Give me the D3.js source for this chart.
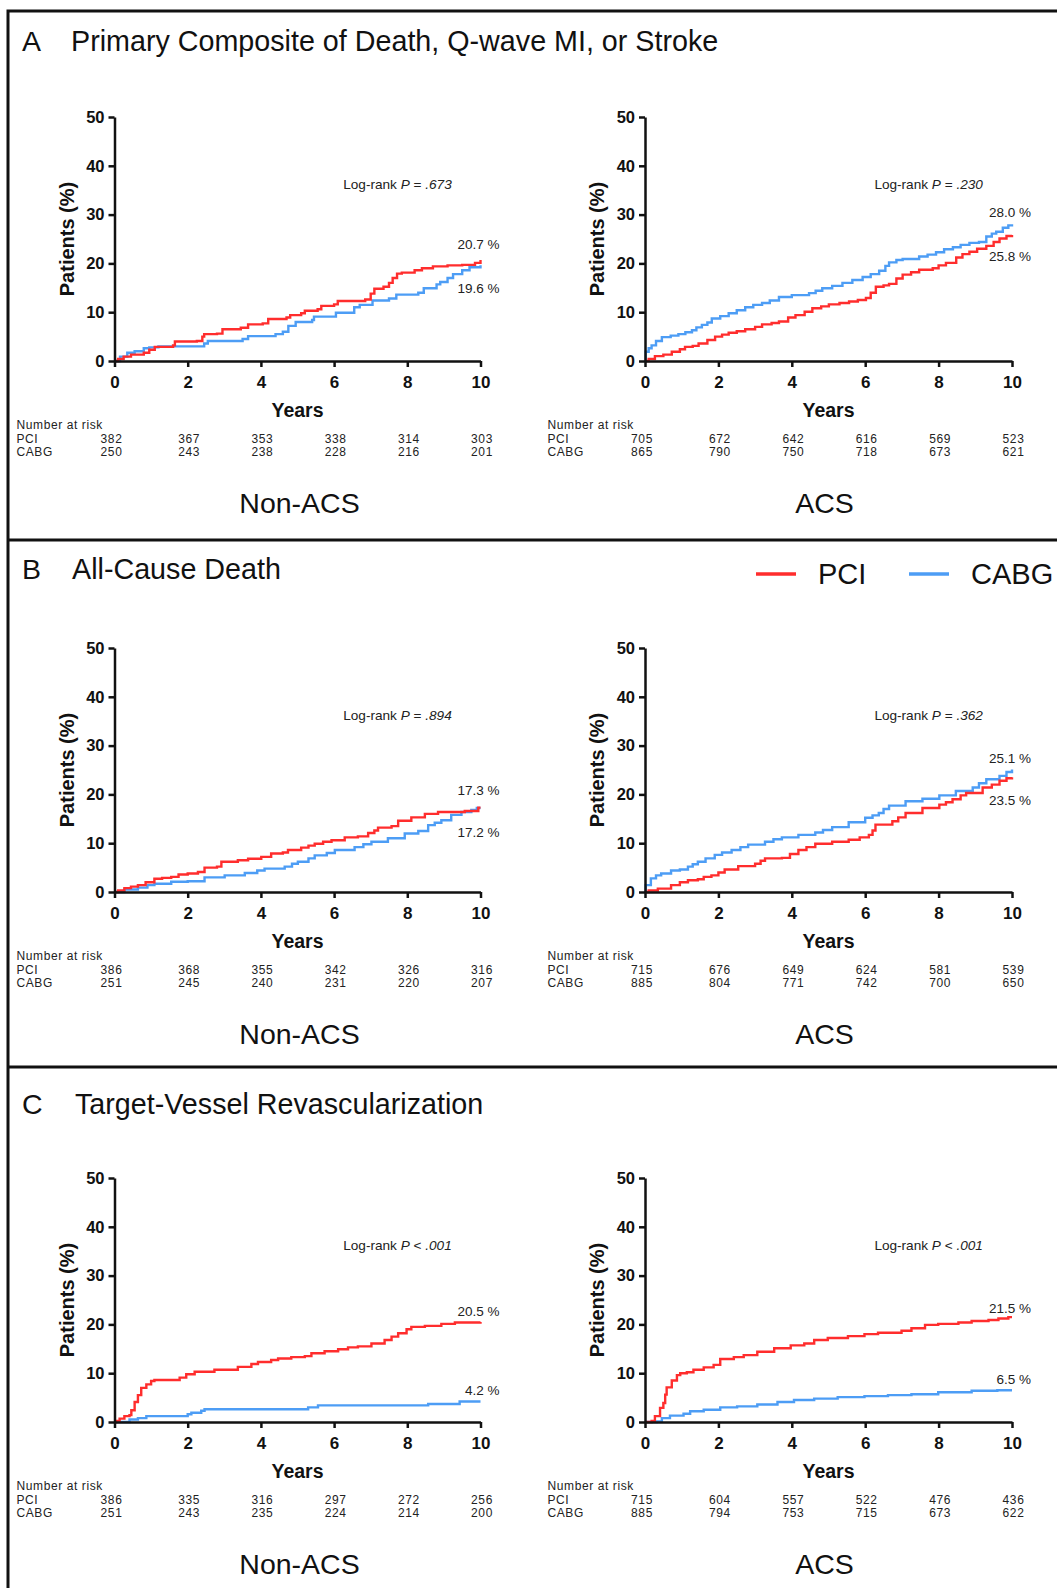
<!DOCTYPE html>
<html lang="en">
<head>
  <meta charset="UTF-8">
  <title>PCI vs CABG, Non-ACS and ACS</title>
  <script src="https://cdn.jsdelivr.net/npm/d3@7"></script>
  <style>
    body { margin: 0; background: #fff; }
    svg text { font-family: "Liberation Sans", Arial, Helvetica, sans-serif; fill: #111; }
    .axis path, .axis line { stroke: #111; stroke-width: 2.5; }
    .axis text { font-weight: bold; fill: #111; }
    .risk { font-size: 12px; letter-spacing: 0.6px; fill: #222; }
    .note { font-size: 13.6px; fill: #222; }
  </style>
</head>
<body>
<script>
  // ---- data ----
  var letters = ["A", "B", "C"];
  var titles = ["Primary Composite of Death, Q-wave MI, or Stroke", "All-Cause Death", "Target-Vessel Revascularization"];
  var groups = ["Non-ACS", "ACS"];
  var yearTicks = [0, 2, 4, 6, 8, 10];
  var pctTicks = [0, 10, 20, 30, 40, 50];
  var seriesNames = ["PCI", "CABG"];

  // panel A: death, Q-wave MI or stroke
  var aNonPci = [[0,0],[0.1,0.4],[0.25,0.9],[0.45,1.3],[0.8,1.7],[0.95,2.3],[1.1,2.9],[1.6,3.2],[1.65,4.0],[2.25,4.1],[2.4,5.0],[2.45,5.5],[2.8,5.6],[2.95,6.5],[3.45,6.8],[3.65,7.5],[4.05,7.7],[4.2,8.6],[4.7,8.9],[4.8,9.4],[5.1,9.8],[5.2,10.3],[5.55,10.6],[5.65,11.3],[6.0,11.6],[6.1,12.3],[6.85,12.6],[7.0,13.8],[7.1,14.8],[7.35,15.2],[7.5,16.0],[7.6,17.0],[7.72,17.9],[7.85,18.1],[8.2,18.6],[8.4,19.0],[8.7,19.4],[9.1,19.6],[9.5,19.7],[9.85,20.1],[10,20.7]];
  var aNonCabg = [[0,0],[0.15,0.9],[0.35,1.7],[0.55,2.0],[0.8,2.6],[0.95,2.8],[1.2,3.0],[2.45,3.6],[2.55,4.1],[3.5,4.5],[3.65,5.1],[4.4,5.5],[4.6,6.0],[4.75,7.2],[4.95,8.0],[5.4,8.4],[5.45,9.1],[6.05,9.9],[6.55,11.0],[6.7,11.5],[7.05,12.4],[7.5,12.8],[7.7,13.6],[8.3,14.0],[8.45,14.9],[8.8,15.7],[8.9,16.2],[9.1,17.0],[9.25,17.8],[9.5,18.6],[9.7,19.2],[10,19.6]];
  var aAcsPci = [[0,0],[0.1,0.4],[0.27,1.0],[0.5,1.3],[0.73,1.9],[0.95,2.4],[1.09,2.9],[1.3,3.1],[1.46,3.6],[1.7,4.3],[1.91,5.0],[2.1,5.4],[2.28,5.8],[2.5,6.1],[2.73,6.5],[3.0,7.0],[3.19,7.5],[3.45,7.8],[3.65,8.1],[3.9,8.9],[4.1,9.4],[4.35,10.1],[4.56,10.8],[4.8,11.2],[5.01,11.6],[5.3,11.9],[5.56,12.2],[5.8,12.5],[6.02,12.9],[6.15,14.0],[6.29,15.2],[6.5,15.5],[6.65,15.8],[6.85,16.9],[7.02,17.7],[7.25,18.2],[7.47,18.7],[7.84,19.0],[8.0,19.6],[8.2,20.1],[8.48,21.2],[8.65,21.9],[8.84,22.4],[9.05,23.0],[9.3,23.6],[9.5,24.4],[9.66,25.1],[9.85,25.6],[10,25.8]];
  var aAcsCabg = [[0,0],[0.02,1.9],[0.1,2.6],[0.18,3.2],[0.3,4.1],[0.46,4.9],[0.7,5.2],[0.91,5.5],[1.1,5.9],[1.28,6.3],[1.4,6.9],[1.55,7.4],[1.7,7.9],[1.82,8.7],[2.05,9.2],[2.28,9.8],[2.5,10.4],[2.73,11.0],[2.95,11.5],[3.19,11.9],[3.4,12.4],[3.65,13.1],[4.0,13.5],[4.47,13.9],[4.65,14.4],[4.83,14.9],[5.1,15.4],[5.38,16.0],[5.65,16.6],[5.93,17.2],[6.15,17.8],[6.38,18.5],[6.55,19.5],[6.65,20.2],[6.85,20.7],[7.02,20.9],[7.47,21.4],[7.7,21.8],[7.93,22.3],[8.15,22.9],[8.39,23.3],[8.6,23.8],[8.84,24.2],[9.1,24.4],[9.3,25.5],[9.45,26.1],[9.57,26.5],[9.75,27.3],[9.9,27.8],[10,28.0]];

  // panel B: all-cause death
  var bNonPci = [[0,0],[0.1,0.3],[0.27,0.8],[0.45,1.1],[0.64,1.4],[0.85,2.0],[1.09,2.7],[1.3,2.9],[1.55,3.1],[1.75,3.6],[2.0,3.8],[2.28,4.1],[2.46,5.0],[2.8,5.2],[2.92,6.2],[3.37,6.5],[3.65,6.8],[4.01,7.2],[4.28,7.9],[4.6,8.1],[4.74,8.6],[5.1,9.1],[5.3,9.5],[5.47,9.9],[5.7,10.3],[5.93,10.6],[6.29,11.2],[6.65,11.4],[6.93,12.1],[7.1,12.6],[7.2,13.2],[7.57,13.5],[7.75,14.6],[8.11,15.3],[8.48,16.0],[8.84,16.4],[9.57,16.6],[9.94,17.3],[10,17.3]];
  var bNonCabg = [[0,0],[0.27,0.5],[0.64,0.9],[0.9,1.4],[1.09,1.7],[1.55,2.1],[2.0,2.2],[2.46,3.0],[3.01,3.4],[3.56,3.9],[3.9,4.4],[4.1,4.8],[4.65,5.2],[4.85,5.8],[5.01,6.2],[5.3,6.9],[5.47,7.5],[5.8,8.0],[6.02,8.6],[6.56,9.2],[6.8,9.8],[7.02,10.3],[7.47,11.0],[7.93,12.0],[8.3,12.5],[8.57,13.7],[8.75,14.2],[8.93,14.7],[9.2,15.8],[9.48,16.4],[9.75,16.8],[9.9,17.2],[10,17.2]];
  var bAcsPci = [[0,0],[0.1,0.3],[0.35,0.7],[0.71,1.4],[0.95,2.0],[1.17,2.4],[1.44,2.6],[1.6,3.1],[1.81,3.4],[2.0,4.0],[2.17,4.6],[2.54,5.3],[3.0,5.8],[3.15,6.4],[3.27,6.9],[3.73,7.0],[3.95,7.8],[4.18,8.6],[4.4,9.2],[4.64,9.9],[5.1,10.3],[5.55,10.7],[5.85,11.2],[6.1,11.7],[6.2,12.6],[6.28,13.8],[6.74,14.5],[6.9,15.3],[7.1,16.2],[7.56,17.2],[8.02,17.9],[8.2,18.4],[8.38,19.0],[8.6,19.8],[8.75,20.3],[9.2,21.4],[9.45,22.0],[9.66,22.8],[9.85,23.3],[10,23.5]];
  var bAcsCabg = [[0,0],[0.02,1.4],[0.16,2.8],[0.3,3.4],[0.44,3.8],[0.71,4.4],[0.95,4.6],[1.17,5.2],[1.3,5.7],[1.44,6.2],[1.65,6.9],[1.9,7.6],[2.1,8.1],[2.36,8.6],[2.6,9.2],[2.81,9.7],[3.27,10.3],[3.5,10.8],[3.73,11.2],[4.18,11.7],[4.64,12.2],[4.85,12.7],[5.1,13.3],[5.55,14.3],[6.0,15.2],[6.2,15.7],[6.37,16.2],[6.5,17.0],[6.65,17.7],[7.1,18.6],[7.56,19.1],[8.02,19.8],[8.47,20.7],[8.93,21.4],[9.1,22.3],[9.3,23.1],[9.66,23.8],[9.85,24.6],[10,25.1]];

  // panel C: target-vessel revascularization
  var cNonPci = [[0,0],[0.05,0.2],[0.14,0.7],[0.27,1.2],[0.41,1.4],[0.46,2.4],[0.55,4.1],[0.64,5.5],[0.73,7.0],[0.87,7.7],[1.0,8.4],[1.09,8.6],[1.78,9.1],[1.96,9.8],[2.19,10.3],[2.73,10.7],[3.37,11.3],[3.74,11.9],[3.92,12.3],[4.28,12.7],[4.47,13.0],[4.83,13.3],[5.2,13.5],[5.38,14.1],[5.74,14.5],[6.11,14.9],[6.38,15.3],[6.65,15.5],[7.02,16.1],[7.38,16.8],[7.57,17.5],[7.75,18.2],[7.98,19.0],[8.11,19.5],[8.48,19.7],[8.93,20.1],[9.3,20.4],[10,20.5]];
  var cNonCabg = [[0,0],[0.41,0.5],[0.64,0.8],[0.87,1.2],[2.0,1.6],[2.1,1.9],[2.37,2.3],[2.46,2.6],[5.29,3.0],[5.56,3.4],[8.57,3.7],[9.43,4.2],[10,4.2]];
  var cAcsPci = [[0,0],[0.18,0.2],[0.27,1.2],[0.41,2.9],[0.5,3.9],[0.55,5.6],[0.59,7.1],[0.73,8.5],[0.87,9.6],[0.96,10.0],[1.14,10.2],[1.32,10.7],[1.6,11.2],[1.87,11.7],[2.05,12.9],[2.42,13.3],[2.69,13.7],[3.06,14.4],[3.52,15.1],[3.97,15.7],[4.34,16.1],[4.61,16.8],[4.98,17.2],[5.53,17.6],[5.98,18.0],[6.35,18.3],[6.99,18.7],[7.26,19.2],[7.63,19.9],[7.99,20.1],[8.54,20.4],[8.9,20.7],[9.36,20.9],[9.63,21.2],[9.9,21.5],[10,21.5]];
  var cAcsCabg = [[0,0],[0.32,0.1],[0.46,0.8],[0.68,1.3],[1.05,1.7],[1.23,2.2],[1.6,2.5],[2.05,3.0],[2.51,3.2],[3.06,3.6],[3.61,4.1],[4.06,4.5],[4.61,4.8],[5.25,5.1],[5.98,5.3],[6.62,5.5],[7.26,5.7],[7.99,6.1],[8.9,6.4],[9.6,6.5],[10,6.5]];

  // 10-year rates printed at the curve ends [PCI, CABG]
  var aNonEnd = [20.7, 19.6], aAcsEnd = [25.8, 28.0];
  var bNonEnd = [17.3, 17.2], bAcsEnd = [23.5, 25.1];
  var cNonEnd = [20.5, 4.2],  cAcsEnd = [21.5, 6.5];

  // log-rank P values
  var pValues = [["= ", ".673"], ["= ", ".230"], ["= ", ".894"], ["= ", ".362"], ["< ", ".001"], ["< ", ".001"]];

  // number at risk [PCI, CABG] at 0,2,...,10 years
  var aNonRisk = [[382, 367, 353, 338, 314, 303], [250, 243, 238, 228, 216, 201]];
  var aAcsRisk = [[705, 672, 642, 616, 569, 523], [865, 790, 750, 718, 673, 621]];
  var bNonRisk = [[386, 368, 355, 342, 326, 316], [251, 245, 240, 231, 220, 207]];
  var bAcsRisk = [[715, 676, 649, 624, 581, 539], [885, 804, 771, 742, 700, 650]];
  var cNonRisk = [[386, 335, 316, 297, 272, 256], [251, 243, 235, 224, 214, 200]];
  var cAcsRisk = [[715, 604, 557, 522, 476, 436], [885, 794, 753, 715, 673, 622]];

  // ---- layout ----
  var width = 1057, height = 1588;
  var colors = {PCI: "#ff2d2d", CABG: "#4d9df5"};
  var rowTop = [117, 648, 1178], rowBottom = [361, 892, 1422];
  var colLeft = [114.5, 645], colRight = [480.5, 1012];
  var titleY = [51, 579, 1114], titleX = [71, 72, 75];
  var riskLabelX = [16.5, 547.5];

  var panels = [
    {row: 0, col: 0, pci: aNonPci, cabg: aNonCabg, end: aNonEnd, risk: aNonRisk, p: pValues[0], dy: [-11, 28]},
    {row: 0, col: 1, pci: aAcsPci, cabg: aAcsCabg, end: aAcsEnd, risk: aAcsRisk, p: pValues[1], dy: [26, -7]},
    {row: 1, col: 0, pci: bNonPci, cabg: bNonCabg, end: bNonEnd, risk: bNonRisk, p: pValues[2], dy: [-13, 29]},
    {row: 1, col: 1, pci: bAcsPci, cabg: bAcsCabg, end: bAcsEnd, risk: bAcsRisk, p: pValues[3], dy: [28, -7]},
    {row: 2, col: 0, pci: cNonPci, cabg: cNonCabg, end: cNonEnd, risk: cNonRisk, p: pValues[4], dy: [-6, -7]},
    {row: 2, col: 1, pci: cAcsPci, cabg: cAcsCabg, end: cAcsEnd, risk: cAcsRisk, p: pValues[5], dy: [-4, -6]}
  ];

  var svg = d3.select("body")
    .append("svg")
    .attr("width", width)
    .attr("height", height)
    .style("background", "#fff");

  // frame around the three sections
  svg.append("path")
    .attr("d", "M8," + height + "V11H" + width + "M8,540H" + width + "M8,1067H" + width)
    .attr("fill", "none")
    .attr("stroke", "#111")
    .attr("stroke-width", 3);

  // section headings
  letters.forEach(function(l, i) {
    svg.append("text").attr("x", 22).attr("y", titleY[i])
      .style("font-size", "28.5px").text(l);
    svg.append("text").attr("x", titleX[i]).attr("y", titleY[i])
      .style("font-size", "28.7px").text(titles[i]);
  });

  // legend (section B, top right)
  var legend = svg.append("g").attr("transform", "translate(756,574)");
  seriesNames.forEach(function(s, i) {
    var g = legend.append("g").attr("transform", "translate(" + (i * 153) + ",0)");
    g.append("line").attr("x1", 0).attr("x2", 40).attr("y1", 0).attr("y2", 0)
      .attr("stroke", colors[s]).attr("stroke-width", 3.5);
    g.append("text").attr("x", 62).attr("y", 9.5)
      .style("font-size", "29px").text(s);
  });

  panels.forEach(function(p) {
    var x = d3.scaleLinear().domain([0, 10]).range([colLeft[p.col], colRight[p.col]]);
    var y = d3.scaleLinear().domain([0, 50]).range([rowBottom[p.row], rowTop[p.row]]);
    var g = svg.append("g");

    var line = d3.line()
      .curve(d3.curveStepAfter)
      .x(function(d) { return x(d[0]); })
      .y(function(d) { return y(d[1]); });

    // curves: CABG under PCI
    [["CABG", p.cabg], ["PCI", p.pci]].forEach(function(s) {
      g.append("path")
        .attr("d", line(s[1]))
        .attr("fill", "none")
        .attr("stroke", colors[s[0]])
        .attr("stroke-width", 2.4);
    });

    // axes
    g.append("g").attr("class", "axis")
      .attr("transform", "translate(" + x(0) + ",0)")
      .call(d3.axisLeft(y).tickValues(pctTicks).tickSize(6).tickSizeOuter(0).tickPadding(4))
      .selectAll("text").style("font-size", "16.5px");
    g.append("g").attr("class", "axis")
      .attr("transform", "translate(0," + y(0) + ")")
      .call(d3.axisBottom(x).tickValues(yearTicks).tickSize(6).tickSizeOuter(0).tickPadding(9))
      .selectAll("text").style("font-size", "17px");
    g.selectAll(".axis").attr("font-family", null).attr("font-size", null);

    // axis titles
    var midX = (x(0) + x(10)) / 2, midY = (y(0) + y(50)) / 2;
    g.append("text")
      .attr("transform", "translate(" + (x(0) - 41) + "," + midY + ") rotate(-90)")
      .attr("text-anchor", "middle")
      .style("font-size", "20px").style("font-weight", "bold")
      .text("Patients (%)");
    g.append("text")
      .attr("x", midX).attr("y", y(0) + 56)
      .attr("text-anchor", "middle")
      .style("font-size", "19.5px").style("font-weight", "bold")
      .text("Years");

    // log-rank annotation
    var note = g.append("text").attr("class", "note")
      .attr("x", x(6.25)).attr("y", y(35.3));
    note.append("tspan").text("Log-rank ");
    note.append("tspan").style("font-style", "italic").text("P");
    note.append("tspan").text(" " + p.p[0]);
    note.append("tspan").style("font-style", "italic").text(p.p[1]);

    // 10-year rates
    p.end.forEach(function(v, i) {
      g.append("text").attr("class", "note")
        .attr("x", x(10) + 19)
        .attr("y", y(v) + p.dy[i])
        .attr("text-anchor", "end")
        .style("font-size", "13.5px")
        .text(v.toFixed(1) + " %");
    });

    // number at risk table
    var base = y(0) + 68;
    g.append("text").attr("class", "risk")
      .attr("x", riskLabelX[p.col]).attr("y", base).text("Number at risk");
    seriesNames.forEach(function(s, i) {
      var yy = base + 13.6 * (i + 1);
      g.append("text").attr("class", "risk")
        .attr("x", riskLabelX[p.col]).attr("y", yy).text(s);
      g.selectAll(null).data(p.risk[i]).enter()
        .append("text").attr("class", "risk")
        .attr("x", function(d, j) { return x(yearTicks[j]) + (j === 0 ? -3 : 1.5); })
        .attr("y", yy)
        .attr("text-anchor", "middle")
        .text(function(d) { return d; });
    });

    // group label
    g.append("text")
      .attr("x", midX + (p.col === 0 ? 2 : -4)).attr("y", y(0) + 152)
      .attr("text-anchor", "middle")
      .style("font-size", "28.5px")
      .text(groups[p.col]);
  });
</script>
</body>
</html>
